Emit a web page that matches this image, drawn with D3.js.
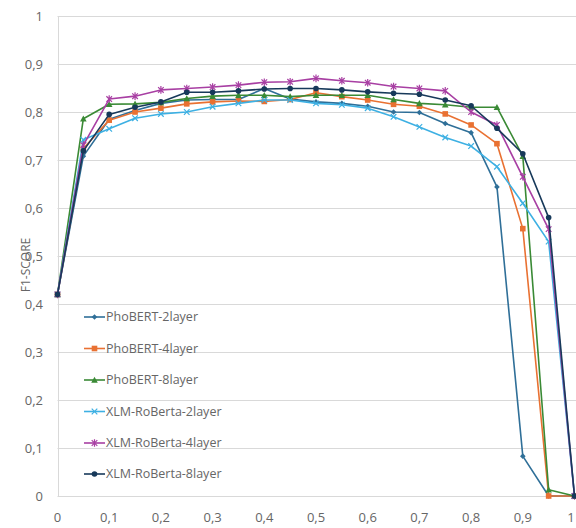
<!DOCTYPE html>
<html>
<head>
<meta charset="utf-8">
<script src="https://cdn.jsdelivr.net/npm/d3@7"></script>
<style>
  html, body { margin: 0; padding: 0; background: #fff; }
  svg { display: block; font-family: "Open Sans", "Noto Sans", sans-serif; }
</style>
</head>
<body>
<svg id="chart" width="576" height="528"></svg>
<script>
const xValues = [0,0.05,0.1,0.15,0.2,0.25,0.3,0.35,0.4,0.45,0.5,0.55,0.6,0.65,0.7,0.75,0.8,0.85,0.9,0.95,1];
const seriesNames = ["PhoBERT-2layer","PhoBERT-4layer","PhoBERT-8layer","XLM-RoBerta-2layer","XLM-RoBerta-4layer","XLM-RoBerta-8layer"];
const phobert2 = [0.42,0.708,0.785,0.803,0.818,0.825,0.826,0.826,0.849,0.827,0.821,0.818,0.812,0.800,0.799,0.776,0.757,0.644,0.083,0,0];
const phobert4 = [0.42,0.724,0.783,0.800,0.808,0.817,0.821,0.823,0.822,0.826,0.840,0.832,0.825,0.816,0.812,0.796,0.773,0.734,0.557,0,0];
const phobert8 = [0.42,0.786,0.816,0.817,0.820,0.828,0.833,0.835,0.835,0.832,0.835,0.835,0.835,0.826,0.818,0.815,0.810,0.810,0.708,0.013,0];
const xlm2     = [0.42,0.742,0.765,0.787,0.796,0.800,0.811,0.818,0.825,0.825,0.818,0.815,0.808,0.790,0.769,0.747,0.729,0.686,0.610,0.530,0];
const xlm4     = [0.42,0.731,0.827,0.833,0.846,0.849,0.852,0.856,0.862,0.863,0.870,0.865,0.861,0.853,0.849,0.844,0.800,0.773,0.665,0.556,0];
const xlm8     = [0.42,0.719,0.795,0.810,0.821,0.841,0.841,0.844,0.848,0.849,0.849,0.846,0.842,0.839,0.837,0.825,0.813,0.766,0.713,0.580,0];
const xTicks = [0,0.1,0.2,0.3,0.4,0.5,0.6,0.7,0.8,0.9,1];
const yTicks = [0,0.1,0.2,0.3,0.4,0.5,0.6,0.7,0.8,0.9,1];
const yTitle = "F1-SCORE";

const colors = ["#2f6f98","#e97132","#3a8a35","#3db0e3","#a83fa3","#17395a"];
const markers = ["diamond","square","triangle","cross","star","circle"];
const allSeries = [phobert2, phobert4, phobert8, xlm2, xlm4, xlm8];

const svg = d3.select("#chart");
const x = d3.scaleLinear().domain([0,1]).range([57.5, 574.5]);
const y = d3.scaleLinear().domain([0,1]).range([496, 16]);
const fmt = v => (v === 0 || v === 1) ? String(v) : d3.format(".1f")(v).replace(".", ",");
const textColor = "#666666";
const gridColor = "#d9d9d9";

// gridlines
svg.append("g").selectAll("line").data(yTicks).join("line")
  .attr("x1", x(0)).attr("x2", 576)
  .attr("y1", d => Math.round(y(d)) + 0.5).attr("y2", d => Math.round(y(d)) + 0.5)
  .attr("stroke", gridColor).attr("stroke-width", 1);
// left axis line
svg.append("line").attr("x1", Math.round(x(0)) + 0.5).attr("x2", Math.round(x(0)) + 0.5)
  .attr("y1", y(1)).attr("y2", y(0)).attr("stroke", gridColor);

// y tick labels
svg.append("g").selectAll("text").data(yTicks).join("text")
  .attr("x", 43).attr("y", d => y(d)).attr("dy", "0.35em")
  .attr("text-anchor", "end").attr("font-size", 13).attr("fill", textColor)
  .text(fmt);
// x tick labels (last one nudged inside the frame so it is not cut)
svg.append("g").selectAll("text").data(xTicks).join("text")
  .attr("x", d => Math.min(x(d), 571)).attr("y", 522)
  .attr("text-anchor", "middle").attr("font-size", 13).attr("fill", textColor)
  .text(fmt);
// y title
svg.append("text").attr("transform", "translate(30,265) rotate(-90)")
  .attr("text-anchor", "middle").attr("font-size", 12).attr("fill", textColor)
  .text(yTitle);

function drawMarker(g, type, color, cx, cy, s) {
  if (type === "diamond") {
    g.append("path").attr("d", `M${cx},${cy-s}L${cx+s},${cy}L${cx},${cy+s}L${cx-s},${cy}Z`).attr("fill", color);
  } else if (type === "square") {
    g.append("rect").attr("x", cx-s).attr("y", cy-s).attr("width", 2*s).attr("height", 2*s).attr("fill", color);
  } else if (type === "triangle") {
    g.append("path").attr("d", `M${cx},${cy-s-0.5}L${cx+s+0.5},${cy+s}L${cx-s-0.5},${cy+s}Z`).attr("fill", color);
  } else if (type === "cross") {
    g.append("path").attr("d", `M${cx-s},${cy-s}L${cx+s},${cy+s}M${cx-s},${cy+s}L${cx+s},${cy-s}`).attr("stroke", color).attr("stroke-width", 1.2);
  } else if (type === "star") {
    g.append("path").attr("d", `M${cx-s},${cy-s}L${cx+s},${cy+s}M${cx-s},${cy+s}L${cx+s},${cy-s}M${cx},${cy-s-1}L${cx},${cy+s+1}`).attr("stroke", color).attr("stroke-width", 1.2);
  } else {
    g.append("circle").attr("cx", cx).attr("cy", cy).attr("r", s).attr("fill", color);
  }
}

const line = d3.line().x((d, i) => x(xValues[i])).y(d => y(d));
allSeries.forEach((vals, k) => {
  const g = svg.append("g");
  g.append("path").datum(vals).attr("d", line)
    .attr("fill", "none").attr("stroke", colors[k]).attr("stroke-width", 1.6)
    .attr("stroke-linejoin", "round");
  vals.forEach((v, i) => drawMarker(g, markers[k], colors[k], x(xValues[i]), y(v), 2.8));
});

// legend
const legendY = [317, 348.5, 380, 411.5, 443, 474];
seriesNames.forEach((name, k) => {
  const g = svg.append("g");
  g.append("line").attr("x1", 84).attr("x2", 105).attr("y1", legendY[k]).attr("y2", legendY[k])
    .attr("stroke", colors[k]).attr("stroke-width", 1.6);
  drawMarker(g, markers[k], colors[k], 94.5, legendY[k], 2.8);
  g.append("text").attr("x", 106).attr("y", legendY[k]).attr("dy", "0.35em")
    .attr("font-size", 12.5).attr("fill", textColor).text(name);
});
</script>
</body>
</html>
